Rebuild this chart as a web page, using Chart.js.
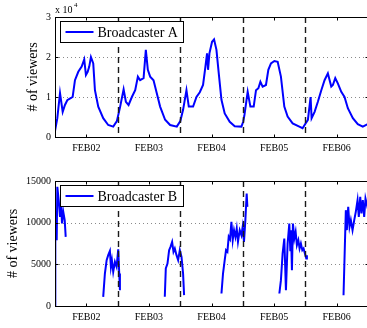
<!DOCTYPE html>
<html>
<head>
<meta charset="utf-8">
<script src="https://cdn.jsdelivr.net/npm/chart.js@4.4.0/dist/chart.umd.min.js"></script>
<style>
  html, body { margin: 0; padding: 0; background: #fff; overflow: hidden; }
  #chartA { position: absolute; left: 0; top: 0; }
  #chartB { position: absolute; left: 0; top: 160px; }
</style>
</head>
<body>
<canvas id="chartA" width="372" height="160"></canvas>
<canvas id="chartB" width="372" height="168"></canvas>
<script>
// time axis is in days (FEB02 = 2), top series in units of 10^4 viewers
var dayTicks = [2, 3, 4, 5, 6];
var dayLabels = ['FEB02', 'FEB03', 'FEB04', 'FEB05', 'FEB06'];
var dayBreaks = [2.5, 3.5, 4.5, 5.5];
var yTicksA = [0, 1, 2, 3];
var yTicksB = [0, 5000, 10000, 15000];

var timeA = [1.500,1.537,1.580,1.623,1.659,1.696,1.750,1.782,1.819,1.872,
  1.926,1.967,1.994,2.022,2.047,2.074,2.111,2.138,2.191,2.270,
  2.350,2.430,2.489,2.541,2.596,2.632,2.675,2.728,2.781,2.824,
  2.860,2.915,2.951,2.983,3.020,3.074,3.127,3.179,3.259,3.339,
  3.446,3.502,3.546,3.600,3.637,3.706,3.760,3.813,3.865,3.903,
  3.929,3.945,3.967,4.009,4.041,4.079,4.116,4.159,4.211,4.291,
  4.371,4.478,4.506,4.526,4.578,4.621,4.674,4.711,4.749,4.781,
  4.817,4.870,4.908,4.950,5.004,5.057,5.109,5.163,5.216,5.296,
  5.403,5.455,5.487,5.540,5.583,5.599,5.647,5.699,5.754,5.806,
  5.859,5.913,5.939,5.977,6.018,6.073,6.125,6.178,6.258,6.337,
  6.417,6.471,6.500];
var viewersA = [0.15,0.47,1.10,0.63,0.80,0.92,0.97,1.00,1.42,1.63,
  1.76,1.94,1.55,1.63,1.76,2.00,1.84,1.17,0.76,0.47,
  0.30,0.26,0.40,0.76,1.19,0.88,0.80,1.00,1.17,1.51,
  1.42,1.47,2.18,1.68,1.51,1.42,1.09,0.76,0.43,0.30,
  0.26,0.40,0.68,1.17,0.76,0.76,1.00,1.12,1.30,1.76,
  2.09,1.68,2.09,2.38,2.44,2.18,1.59,0.93,0.59,0.38,
  0.27,0.26,0.38,0.55,1.13,0.76,0.76,1.17,1.22,1.38,
  1.26,1.30,1.68,1.84,1.90,1.88,1.51,0.76,0.51,0.34,
  0.26,0.22,0.30,0.43,1.00,0.47,0.63,0.88,1.17,1.42,
  1.59,1.26,1.30,1.47,1.34,1.13,1.00,0.72,0.47,0.32,
  0.26,0.30,0.33];

// null = broadcaster offline (gap in the line)
var timeB = [1.500,1.505,1.516,1.527,1.537,1.559,1.580,1.596,1.612,1.632,1.655,1.671,1.700,
  2.270,2.297,2.325,2.350,2.377,2.393,2.409,2.430,2.457,2.484,2.510,2.526,2.537,2.600,
  3.254,3.270,3.297,3.323,3.345,3.371,3.393,3.414,3.441,3.467,3.494,3.521,3.546,3.562,3.600,
  4.159,4.184,4.211,4.232,4.254,4.275,4.296,4.318,4.339,4.360,4.382,4.403,4.423,4.451,4.478,4.498,4.519,4.541,4.562,4.573,4.600,
  5.084,5.109,5.136,5.163,5.189,5.216,5.243,5.259,5.269,5.285,5.301,5.323,5.344,5.364,5.387,5.407,5.428,5.451,5.471,5.492,5.514,5.524,5.600,
  6.109,6.130,6.146,6.162,6.184,6.205,6.226,6.253,6.280,6.305,6.333,6.353,6.376,6.395,6.417,6.439,6.460,6.484,6.500];
var viewersB = [0,7900,11100,7900,14300,12700,10700,12300,9900,11300,10300,8300,null,
  1100,3900,5500,6100,6600,4700,5500,4100,5300,4700,6800,3900,1900,null,
  1100,4500,5100,6700,7100,7700,6500,6900,6100,5500,6700,5900,3900,1300,null,
  1500,3900,5500,6700,6500,8300,8000,10100,7900,9100,8300,9300,7700,9100,8500,9500,7700,10300,13500,11900,null,
  1500,3100,6300,8100,1900,7500,9900,6700,9100,4300,9900,8100,8900,7300,7900,6900,7500,6700,6900,6300,5700,6100,null,
  1300,7100,11500,9100,11900,9500,10300,9100,10300,11300,12700,10700,13100,11100,12700,10700,12900,12100,12500];

var serif = '"Liberation Serif", "Times New Roman", serif';

function pts(t, v) {
  return t.map(function(x, i) { return { x: x, y: v[i] }; });
}

// matlab style box, inner ticks, dotted grid, dashed day lines, legend
var framePlugin = {
  id: 'frame',
  beforeDatasetsDraw: function(chart) {
    var ctx = chart.ctx, a = chart.chartArea, ys = chart.scales.y;
    ctx.save();
    ctx.strokeStyle = '#8a8a8a';
    ctx.lineWidth = 1;
    ctx.setLineDash([1, 3]);
    ys.ticks.forEach(function(t) {
      if (t.value <= ys.min || t.value >= ys.max) return;
      var py = Math.round(ys.getPixelForValue(t.value)) + 0.5;
      ctx.beginPath(); ctx.moveTo(a.left, py); ctx.lineTo(a.right, py); ctx.stroke();
    });
    ctx.restore();
  },
  afterDatasetsDraw: function(chart) {
    var ctx = chart.ctx, a = chart.chartArea, xs = chart.scales.x;
    ctx.save();
    ctx.strokeStyle = '#1a1a1a';
    ctx.lineWidth = 1.4;
    ctx.setLineDash([6, 4]);
    dayBreaks.forEach(function(d) {
      var px = Math.round(xs.getPixelForValue(d)) + 0.5;
      ctx.beginPath(); ctx.moveTo(px, a.top); ctx.lineTo(px, a.bottom); ctx.stroke();
    });
    ctx.restore();
  },
  afterDraw: function(chart, args, opts) {
    var ctx = chart.ctx, a = chart.chartArea, xs = chart.scales.x, ys = chart.scales.y;
    var l = Math.round(a.left) + 0.5, r = Math.round(a.right) + 0.5;
    var t = Math.round(a.top) + 0.5, b = Math.round(a.bottom) + 0.5;
    ctx.save();
    ctx.strokeStyle = '#000';
    ctx.lineWidth = 1;
    ctx.strokeRect(l, t, r - l, b - t);
    ctx.beginPath();
    dayTicks.forEach(function(d) {
      var px = Math.round(xs.getPixelForValue(d)) + 0.5;
      ctx.moveTo(px, b); ctx.lineTo(px, b - 3);
      ctx.moveTo(px, t); ctx.lineTo(px, t + 3);
    });
    ys.ticks.forEach(function(tk) {
      var py = Math.round(ys.getPixelForValue(tk.value)) + 0.5;
      ctx.moveTo(l, py); ctx.lineTo(l + 3, py);
      ctx.moveTo(r, py); ctx.lineTo(r - 3, py);
    });
    ctx.stroke();

    // legend box
    var lx = l + 5, ly = t + 4, lw = 123, lh = 21;
    ctx.fillStyle = '#fff';
    ctx.fillRect(lx, ly, lw, lh);
    ctx.strokeRect(lx, ly, lw, lh);
    ctx.strokeStyle = '#0000ff';
    ctx.lineWidth = 2;
    ctx.beginPath();
    ctx.moveTo(lx + 5, ly + lh / 2); ctx.lineTo(lx + 33, ly + lh / 2);
    ctx.stroke();
    ctx.fillStyle = '#000';
    ctx.font = '14px ' + serif;
    ctx.textBaseline = 'middle';
    ctx.fillText(chart.data.datasets[0].label, lx + 37, ly + lh / 2 + 1);

    if (opts.exponent) {
      ctx.font = '10px ' + serif;
      ctx.textBaseline = 'alphabetic';
      ctx.fillText('x 10', a.left, 13);
      ctx.font = '7px ' + serif;
      ctx.fillText(opts.exponent, a.left + 19, 7);
    }
    ctx.restore();
  }
};

function options(yMax, yTicks, yWidth, xHeight, padLeft, padTop, exponent) {
  return {
    responsive: false,
    animation: false,
    devicePixelRatio: 1,
    layout: { padding: { left: padLeft, top: padTop, right: 4, bottom: 0 } },
    plugins: {
      legend: { display: false },
      tooltip: { enabled: false },
      frame: { exponent: exponent }
    },
    scales: {
      x: {
        type: 'linear',
        min: 1.5,
        max: 6.5,
        afterBuildTicks: function(s) { s.ticks = dayTicks.map(function(v) { return { value: v }; }); },
        afterFit: function(s) { s.height = xHeight; },
        ticks: {
          color: '#000',
          padding: 5,
          maxRotation: 0,
          font: { family: serif, size: 10 },
          callback: function(v) { return dayLabels[dayTicks.indexOf(v)]; }
        },
        grid: { display: false, drawTicks: false },
        border: { display: false }
      },
      y: {
        min: 0,
        max: yMax,
        afterBuildTicks: function(s) { s.ticks = yTicks.map(function(v) { return { value: v }; }); },
        afterFit: function(s) { s.width = yWidth; },
        ticks: {
          color: '#000',
          padding: 4,
          font: { family: serif, size: 10 },
          callback: function(v) { return String(v); }
        },
        title: {
          display: true,
          text: '# of viewers',
          color: '#000',
          padding: 0,
          font: { family: serif, size: 14 }
        },
        grid: { display: false, drawTicks: false },
        border: { display: false }
      }
    }
  };
}

new Chart(document.getElementById('chartA').getContext('2d'), {
  type: 'line',
  data: {
    datasets: [{
      label: 'Broadcaster A',
      data: pts(timeA, viewersA),
      borderColor: '#0000ff',
      borderWidth: 2,
      pointRadius: 0,
      tension: 0
    }]
  },
  options: options(3, yTicksA, 30, 23, 25, 17, '4'),
  plugins: [framePlugin]
});

new Chart(document.getElementById('chartB').getContext('2d'), {
  type: 'line',
  data: {
    datasets: [{
      label: 'Broadcaster B',
      data: pts(timeB, viewersB),
      borderColor: '#0000ff',
      borderWidth: 2,
      pointRadius: 0,
      spanGaps: false,
      tension: 0
    }]
  },
  options: options(15000, yTicksB, 50, 22, 5, 21, null),
  plugins: [framePlugin]
});
</script>
</body>
</html>
